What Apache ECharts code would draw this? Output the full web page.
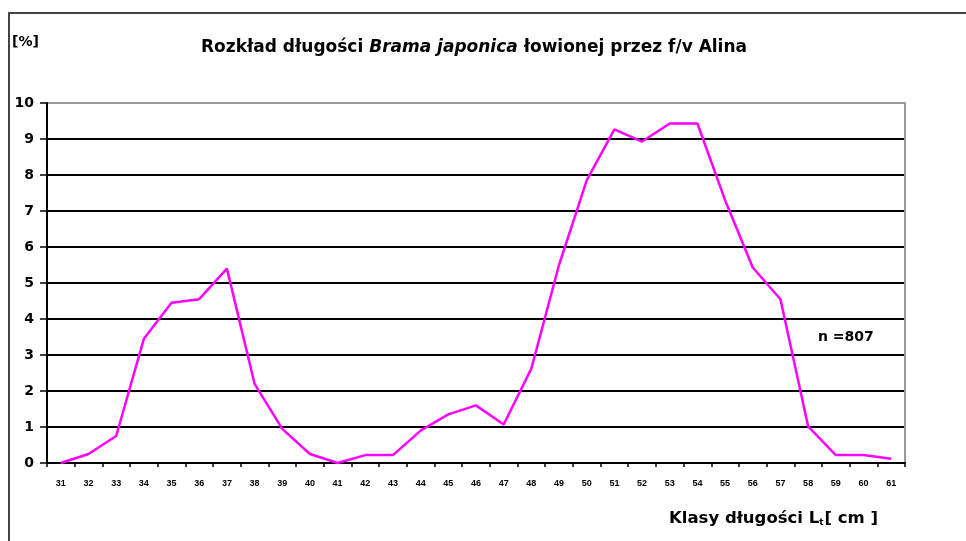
<!DOCTYPE html>
<html>
<head>
<meta charset="utf-8">
<script src="https://cdn.jsdelivr.net/npm/echarts@6/dist/echarts.min.js"></script>
<style>
  html, body { margin: 0; padding: 0; background: #fff; }
  #chart { width: 966px; height: 541px; }
</style>
</head>
<body>
<div id="chart"></div>
<script>
// klasy długości [cm]
var lengthClasses = ['31', '32', '33', '34', '35', '36', '37', '38', '39', '40',
  '41', '42', '43', '44', '45', '46', '47', '48', '49', '50',
  '51', '52', '53', '54', '55', '56', '57', '58', '59', '60', '61']
// udział [%]
var percentValues = [0, 0.25, 0.75, 3.45, 4.45, 4.55, 5.4, 2.2, 0.95, 0.25,
  0, 0.22, 0.22, 0.9, 1.35, 1.6, 1.07, 2.62, 5.5, 7.85,
  9.27, 8.93, 9.43, 9.43, 7.3, 5.43, 4.55, 1.02, 0.22, 0.22, 0.12]
var yTicks = [0, 10, 1]

var font = 'DejaVu Sans, Verdana, sans-serif'
var smallFont = 'Liberation Sans, Arial, sans-serif'

var chart = echarts.init(document.getElementById('chart'))

// linie siatki: czarne, górna szara
var gridColors = []
for (var i = 0; i < 10; i++) gridColors.push('#000')
gridColors.push('#999')

var option = {
  backgroundColor: '#fff',
  animation: false,
  textStyle: { fontFamily: font },
  title: {
    text: '{n|Rozkład długości }{i|Brama japonica }{n|łowionej przez f/v Alina}',
    left: 469,
    textAlign: 'center',
    top: 34,
    textStyle: {
      rich: {
        n: { fontFamily: font, fontSize: 17, fontWeight: 'bold', color: '#000' },
        i: { fontFamily: font, fontSize: 17, fontWeight: 'bold', fontStyle: 'italic', color: '#000' }
      }
    }
  },
  grid: { left: 47, right: 61, top: 103, bottom: 78, containLabel: false },
  xAxis: {
    type: 'category',
    data: lengthClasses,
    boundaryGap: true,
    axisLine: { lineStyle: { color: '#000', width: 2 } },
    axisTick: { show: true, length: 4, lineStyle: { color: '#000', width: 1.5 } },
    axisLabel: { interval: 0, fontFamily: smallFont, fontSize: 9, fontWeight: 'bold', color: '#000', margin: 16 },
    splitLine: { show: false }
  },
  yAxis: [{
    type: 'value',
    min: yTicks[0],
    max: yTicks[1],
    interval: yTicks[2],
    axisLine: { show: true, lineStyle: { color: '#000', width: 2 } },
    axisTick: { show: true, length: 7, lineStyle: { color: '#000', width: 1.5 } },
    axisLabel: { fontFamily: font, fontSize: 14, fontWeight: 'bold', color: '#000', margin: 13 },
    splitLine: { show: true, lineStyle: { color: gridColors, width: 2 } }
  }, {
    type: 'value',
    position: 'right',
    min: yTicks[0],
    max: yTicks[1],
    interval: yTicks[2],
    axisLine: { show: true, lineStyle: { color: '#999', width: 2 } },
    axisTick: { show: false },
    axisLabel: { show: false },
    splitLine: { show: false }
  }],
  series: [{
    type: 'line',
    data: percentValues,
    symbol: 'none',
    lineStyle: { color: '#ff00ff', width: 2.5 }
  }],
  graphic: [
    {
      type: 'polyline',
      shape: { points: [[9, 541], [9, 13], [966, 13]] },
      style: { stroke: '#444', lineWidth: 2, fill: null }
    },
    {
      type: 'text',
      left: 12,
      top: 35,
      style: { text: '[%]', font: 'bold 14px ' + font, fill: '#000' }
    },
    {
      type: 'text',
      left: 818,
      top: 330,
      style: { text: 'n =807', font: 'bold 14px ' + font, fill: '#000' }
    },
    {
      type: 'text',
      left: 669,
      top: 510,
      style: {
        text: '{a|Klasy długości L}{s|t}{a|[ cm ]}',
        rich: {
          a: { fontFamily: font, fontSize: 16.5, fontWeight: 'bold', color: '#000' },
          s: { fontFamily: font, fontSize: 9, fontWeight: 'bold', color: '#000', verticalAlign: 'bottom', padding: [7, 1, 0, 0] }
        }
      }
    }
  ]
}

chart.setOption(option)
</script>
</body>
</html>
